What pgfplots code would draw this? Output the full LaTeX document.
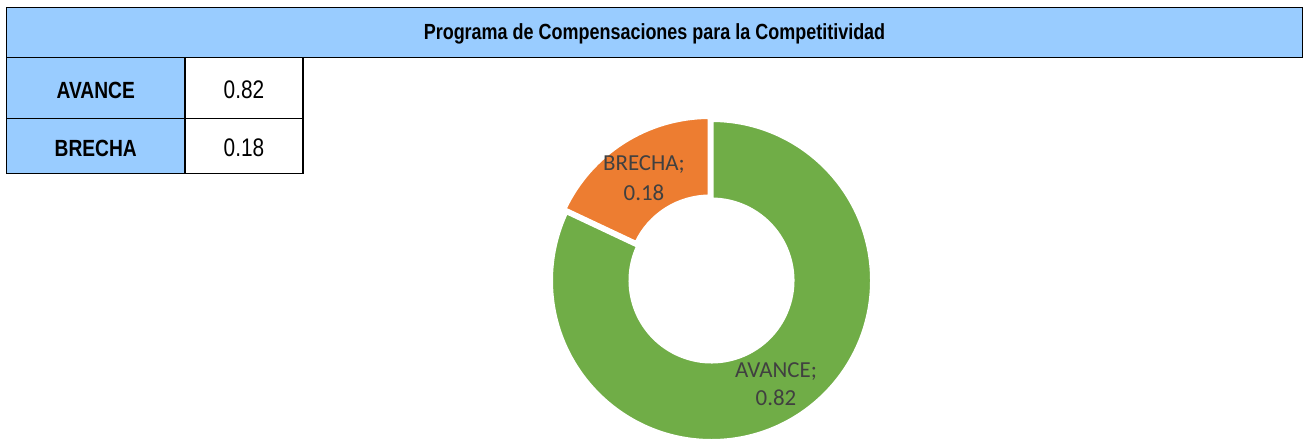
\documentclass[border=0pt]{standalone}
\usepackage{pgfplots}
\pgfplotsset{compat=1.18}
\usepackage{pgfplotstable}
\usetikzlibrary{calc}
\usepackage{fontspec}
\setmainfont{Liberation Sans}
\newfontfamily\narrowfont[FakeStretch=0.82]{Liberation Sans}
\newfontfamily\calibri{Carlito}
\definecolor{hdr}{HTML}{99CCFF}
\definecolor{avance}{HTML}{70AD47}
\definecolor{brecha}{HTML}{ED7D31}
\definecolor{lbl}{HTML}{404040}

\pgfplotstableread{
label value
AVANCE 0.82
BRECHA 0.18
}\donutdata

\begin{document}
\begin{tikzpicture}
\pgfplotstablegetelem{0}{value}\of\donutdata \global\let\va\pgfplotsretval
\pgfplotstablegetelem{1}{value}\of\donutdata \global\let\vb\pgfplotsretval
\pgfmathsetmacro\aA{90}
\pgfmathsetmacro\aB{90-360*\va}
\pgfmathsetmacro\aC{\aB-360*\vb}
\def\cx{711.5}\def\cy{159.5}
\def\ox{709.6}\def\oy{162.5}
\def\Rout{160.5}\def\Rin{81}
\begin{axis}[
  width=1304bp, height=440bp, scale only axis,
  xmin=0, xmax=1304, ymin=0, ymax=440,
  hide axis, clip=false,
]
\path (axis cs:0,0) rectangle (axis cs:1304,440);
% header
\filldraw[fill=hdr, draw=black, line width=1.6bp] (axis cs:6.5,382.5) rectangle (axis cs:1302.5,432.5);
\node[anchor=base, font=\narrowfont\bfseries\fontsize{22}{26}\selectfont] at (axis cs:654.5,400.7) {Programa de Compensaciones para la Competitividad};
% table
\filldraw[fill=hdr, draw=black, line width=1.6bp] (axis cs:6.5,321.5) rectangle (axis cs:185,382.5);
\filldraw[fill=hdr, draw=black, line width=1.6bp] (axis cs:6.5,266.5) rectangle (axis cs:185,321.5);
\filldraw[fill=white, draw=black, line width=1.6bp] (axis cs:185,321.5) rectangle (axis cs:303,382.5);
\filldraw[fill=white, draw=black, line width=1.6bp] (axis cs:185,266.5) rectangle (axis cs:303,321.5);
\node[anchor=base, font=\narrowfont\bfseries\fontsize{23.5}{28}\selectfont] at (axis cs:95.75,341.7) {AVANCE};
\node[anchor=base, font=\narrowfont\bfseries\fontsize{23.5}{28}\selectfont] at (axis cs:95.75,284) {BRECHA};
\node[anchor=base, font=\narrowfont\fontsize{25.5}{30}\selectfont] at (axis cs:244,341.7) {\va};
\node[anchor=base, font=\narrowfont\fontsize{25.5}{30}\selectfont] at (axis cs:244,284) {\vb};
% donut
\filldraw[fill=avance, draw=white, line width=4bp]
  ($(axis cs:\cx,\cy)+(\aA:\Rout bp)$) arc[start angle=\aA, end angle=\aB, radius=\Rout bp]
  -- ($(axis cs:\cx,\cy)+(\aB:\Rin bp)$) arc[start angle=\aB, end angle=\aA, radius=\Rin bp] -- cycle;
\filldraw[fill=brecha, draw=white, line width=4bp]
  ($(axis cs:\ox,\oy)+(\aB:\Rout bp)$) arc[start angle=\aB, end angle=\aC, radius=\Rout bp]
  -- ($(axis cs:\ox,\oy)+(\aC:\Rin bp)$) arc[start angle=\aC, end angle=\aB, radius=\Rin bp] -- cycle;
\node[anchor=base, text=lbl, font=\calibri\fontsize{23}{28}\selectfont] at (axis cs:644,270) {BRECHA;};
\node[anchor=base, text=lbl, font=\calibri\fontsize{23}{28}\selectfont] at (axis cs:644,240) {\vb};
\node[anchor=base, text=lbl, font=\calibri\fontsize{23}{28}\selectfont] at (axis cs:776,62.7) {AVANCE;};
\node[anchor=base, text=lbl, font=\calibri\fontsize{23}{28}\selectfont] at (axis cs:776,34.3) {\va};
\end{axis}
\end{tikzpicture}
\end{document}
